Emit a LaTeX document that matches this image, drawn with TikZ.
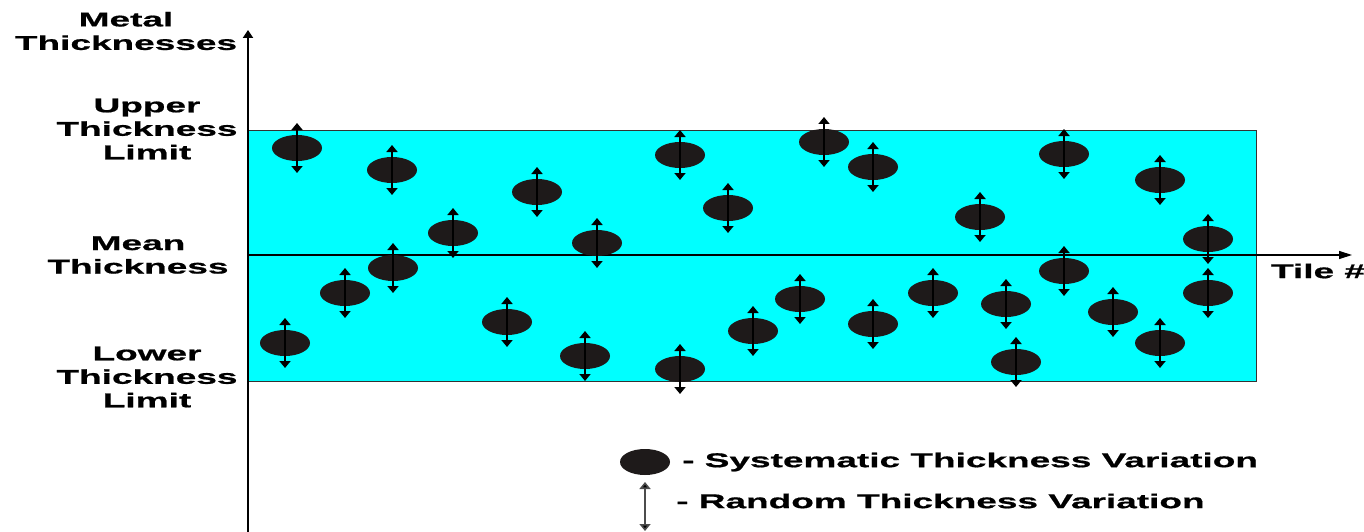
\documentclass[tikz,border=0pt]{standalone}
\usepackage{fontspec}
\setmainfont[FakeStretch=1.85, BoldFeatures={FakeBold=0.8}]{Liberation Sans}
\usetikzlibrary{arrows.meta,shapes.geometric}
\definecolor{dotc}{RGB}{30,26,26}
\definecolor{bandc}{RGB}{0,255,255}
\begin{document}
\begin{tikzpicture}[x=1pt,y=-1pt,
  lbl/.style={font=\fontsize{20}{23.5}\selectfont\bfseries, align=center, inner sep=0pt},
  dot/.style={ellipse, fill=dotc, minimum width=50pt, minimum height=26pt, inner sep=0pt},
  var/.style={line width=1.8pt, {Triangle[width=11pt,length=7pt]}-{Triangle[width=11pt,length=7pt]}},
  yaxis/.style={line width=2.6pt, -{Triangle[width=10pt,length=8pt]}},
  xaxis/.style={line width=1.2pt, -{Triangle[width=8pt,length=13pt]}},
]
\useasboundingbox (0,0) rectangle (1364,532);
% band
\node[draw=black!80, line width=1pt, fill=bandc, minimum width=1008pt, minimum height=251pt, anchor=north west, inner sep=0pt] (band) at (248,130) {};
% axes
\coordinate (o) at (248,532);
\coordinate (ytip) at (248,30);
\coordinate (m0) at (248,255);
\coordinate (xtip) at (1352,255);
\draw[xaxis] (m0) -- (xtip);
\draw[yaxis] (o) -- (ytip);
% dots with variations
\foreach \n/\x/\y in {e1/297/148, e2/392/170, e3/453/233, e4/537/192, e5/597/243, e6/680/155, e7/728/208, e8/824/142, e9/873/167, e10/980/217, e11/1064/154, e12/1160/180, e13/1208/239, e14/285/343, e15/345/293, e16/393/268, e17/507/322, e18/585/356, e19/680/369, e20/753/331, e21/800/299, e22/873/324, e23/933/293, e24/1006/304, e25/1016/362, e26/1064/271, e27/1113/312, e28/1160/343, e29/1208/293}{
  \node[dot] (\n) at (\x,\y) {};
  \coordinate (\n t) at (\x,\y-25);
  \coordinate (\n b) at (\x,\y+25);
  \draw[var] (\n t) -- (\n b);
}
% labels
\node[lbl] (lm) at (126,31) {Metal\\Thicknesses};
\node[lbl] (lu) at (147,129) {Upper\\Thickness\\Limit};
\node[lbl] (lmean) at (138,255) {Mean\\Thickness};
\node[lbl] (ll) at (147,377) {Lower\\Thickness\\Limit};
\node[lbl] (lt) at (1318,271) {Tile \#};
% legend
\node[dot] (ld) at (645,462) {};
\node[lbl, anchor=west] (lt1) at (682,462) {- Systematic Thickness Variation};
\coordinate (la1) at (645,482);
\coordinate (la2) at (645,531);
\draw[line width=1.6pt, draw=black!70, {Triangle[width=11pt,length=7pt,fill=black]}-{Triangle[width=11pt,length=7pt,fill=black]}] (la1) -- (la2);
\node[lbl, anchor=west] (lt2) at (676,501) {- Random Thickness Variation};
\end{tikzpicture}
\end{document}
